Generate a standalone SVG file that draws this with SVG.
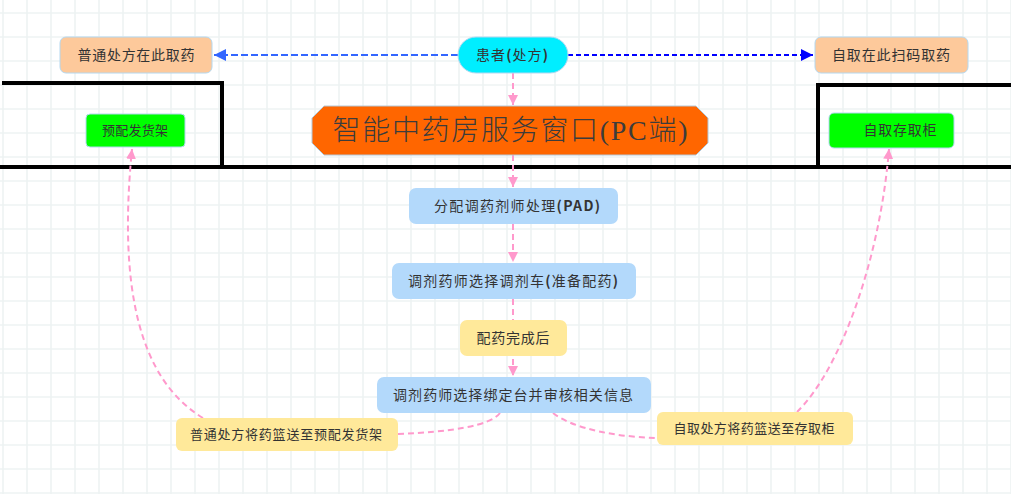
<svg xmlns="http://www.w3.org/2000/svg" width="1011" height="494" viewBox="0 0 1011 494">
  <style>
    .t { font-family: "Noto Sans CJK SC", "Liberation Sans", sans-serif; font-size: 14px; fill: #333; text-anchor: middle; }
    .b { font-weight: bold; }
    .title { font-family: "Liberation Serif", "Noto Sans CJK SC", serif; font-size: 28px; font-weight: 300; fill: #3c3c3c; text-anchor: middle; }
    .orange { fill: #fdc99b; stroke: #b4d8f0; stroke-width: 1; }
    .green { fill: #00ff00; stroke: #b4d8f0; stroke-width: 1; }
    .blue { fill: #b3d9fb; }
    .yellow { fill: #ffe99a; }
    .wall { fill: none; stroke: #000; stroke-width: 4; }
    .flow { fill: none; stroke: #ff99cc; stroke-width: 2; stroke-dasharray: 6 4; }
  </style>
  <defs>
    <pattern id="grid" patternUnits="userSpaceOnUse" x="-9" y="1" width="24" height="24">
      <path d="M12 0V24M0 12H24" stroke="#eef3f3" stroke-width="1.6" fill="none"/>
    </pattern>
    <marker id="pink" markerWidth="12" markerHeight="12" refX="10" refY="5" orient="auto" markerUnits="userSpaceOnUse">
      <path d="M0 0L10 5L0 10Z" fill="#ff99cc"/>
    </marker>
    <marker id="blueL" markerWidth="14" markerHeight="14" refX="12" refY="6" orient="auto" markerUnits="userSpaceOnUse">
      <path d="M0 0L12 6L0 12Z" fill="#3366ff"/>
    </marker>
    <marker id="blueR" markerWidth="14" markerHeight="14" refX="12" refY="6" orient="auto" markerUnits="userSpaceOnUse">
      <path d="M0 0L12 6L0 12Z" fill="#0000ff"/>
    </marker>
  </defs>

  <rect width="1011" height="494" fill="#fff"/>
  <rect width="1011" height="494" fill="url(#grid)"/>

  <!-- counter walls -->
  <g id="walls">
    <path class="wall" d="M2 83H222V167"/>
    <path class="wall" d="M0 167H1011"/>
    <path class="wall" d="M1011 85H818V167"/>
  </g>

  <!-- connectors -->
  <g id="connectors">
    <path d="M458 55H214" fill="none" stroke="#3366ff" stroke-width="2" stroke-dasharray="7 3" marker-end="url(#blueL)"/>
    <path d="M568 55H813" fill="none" stroke="#0000ff" stroke-width="2" stroke-dasharray="5 3" marker-end="url(#blueR)"/>
    <path class="flow" d="M513 73V105" marker-end="url(#pink)"/>
    <path class="flow" d="M513 155V187" marker-end="url(#pink)"/>
    <path class="flow" d="M513 224V262" marker-end="url(#pink)"/>
    <path class="flow" d="M513 299V376" marker-end="url(#pink)"/>
    <path class="flow" d="M500 413C490 426 450 432 398 434"/>
    <path class="flow" d="M203 418C140 380 118 290 132 149" marker-end="url(#pink)"/>
    <path class="flow" d="M553 413C575 430 620 437 657 438"/>
    <path class="flow" d="M797 412C840 370 880 260 889 149" marker-end="url(#pink)"/>
  </g>

  <g id="n-pickup-normal">
    <rect class="orange" x="60" y="37" width="152" height="36" rx="6"/>
    <text class="t" x="136" y="60" textLength="117" lengthAdjust="spacing">普通处方在此取药</text>
  </g>
  <g id="n-patient">
    <rect x="458" y="37" width="110" height="36" rx="18" fill="#00eeff" stroke="#b4d8f0"/>
    <text class="t" x="512" y="60" textLength="72" lengthAdjust="spacing">患者<tspan class="b">(</tspan>处方<tspan class="b">)</tspan></text>
  </g>
  <g id="n-pickup-self">
    <rect class="orange" x="815" y="37" width="153" height="36" rx="6"/>
    <text class="t" x="891" y="60" textLength="118" lengthAdjust="spacing">自取在此扫码取药</text>
  </g>
  <g id="n-window">
    <path d="M324 106H696L708 118V143L696 155H324L312 143V118Z" fill="#ff6600" stroke="#b4c8d8" stroke-width="1"/>
    <text class="title" x="510" y="140" textLength="355" lengthAdjust="spacing">智能中药房服务窗口(PC端)</text>
  </g>
  <g id="n-shelf">
    <rect class="green" x="86" y="114" width="99" height="33" rx="4"/>
    <text class="t" x="135" y="135" style="font-size:13px" textLength="66" lengthAdjust="spacing">预配发货架</text>
  </g>
  <g id="n-locker">
    <rect class="green" x="829" y="113" width="125" height="35" rx="5"/>
    <text class="t" x="900" y="135" textLength="73" lengthAdjust="spacing">自取存取柜</text>
  </g>
  <g id="n-assign">
    <rect class="blue" x="409" y="188" width="209" height="36" rx="7"/>
    <text class="t" x="517" y="211" textLength="166" lengthAdjust="spacing">分配调药剂师处理<tspan class="b">(PAD)</tspan></text>
  </g>
  <g id="n-cart">
    <rect class="blue" x="392" y="263" width="244" height="36" rx="7"/>
    <text class="t" x="513" y="286" textLength="210" lengthAdjust="spacing">调剂药师选择调剂车<tspan class="b">(</tspan>准备配药<tspan class="b">)</tspan></text>
  </g>
  <g id="n-done">
    <rect class="yellow" x="460" y="320" width="107" height="36" rx="7"/>
    <text class="t" x="513" y="343" textLength="73" lengthAdjust="spacing">配药完成后</text>
  </g>
  <g id="n-bind">
    <rect class="blue" x="377" y="377" width="274" height="36" rx="7"/>
    <text class="t" x="513" y="400" textLength="240" lengthAdjust="spacing">调剂药师选择绑定台并审核相关信息</text>
  </g>
  <g id="n-send-normal">
    <rect class="yellow" x="176" y="418" width="222" height="33" rx="6"/>
    <text class="t" x="286" y="439" style="font-size:13px" textLength="192" lengthAdjust="spacing">普通处方将药篮送至预配发货架</text>
  </g>
  <g id="n-send-self">
    <rect class="yellow" x="657" y="412" width="196" height="33" rx="6"/>
    <text class="t" x="754" y="433" style="font-size:13px" textLength="161" lengthAdjust="spacing">自取处方将药篮送至存取柜</text>
  </g>
</svg>
